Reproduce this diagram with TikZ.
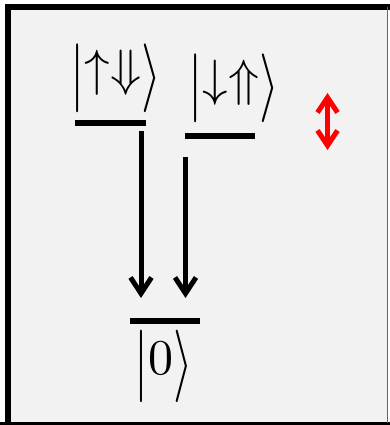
\documentclass[tikz,border=0pt]{standalone}
\usepackage{graphicx}
\usetikzlibrary{arrows.meta}
\newcommand{\tallbar}[1]{\raisebox{-0.2em}{\scalebox{1}[#1]{$|$}}}
\newcommand{\tallket}[1]{\raisebox{-0.2em}{\scalebox{1}[#1]{$\rangle$}}}
\newcommand{\ketlabel}[3]{\scalebox{#1}{$\tallbar{#2}#3\tallket{#2}$}}
\begin{document}
\begin{tikzpicture}[x=1pt,y=-1pt,
  levelbar/.style={fill=black, inner sep=0pt, minimum height=6pt},
  decay/.style={line width=5pt, -{Straight Barb[length=16pt,width=21pt]}},
  swap/.style={red, line width=5pt, {Straight Barb[length=15pt,width=20pt]}-{Straight Barb[length=15pt,width=20pt]}},
  ket/.style={inner sep=0pt},
]
\useasboundingbox (0,0) rectangle (390,425);
% panel background and frame
\fill[black!5] (7.5,7.5) rectangle (387,423);
\draw[line width=6pt] (7.5,425) -- (7.5,7.5) -- (390,7.5);
\draw[line width=4pt] (0,423.5) -- (390,423.5);
\draw[black!60, line width=1.5pt] (387.5,7.5) -- (387.5,423);

% energy levels
\node[levelbar, minimum width=71pt] (e1) at (110.5,123) {};
\node[levelbar, minimum width=70pt] (e2) at (220,136) {};
\node[levelbar, minimum width=70pt] (e0) at (165,321) {};

% level labels
\node[ket] (k1) at (116,78) {\ketlabel{5.1}{1.35}{\mathord{\uparrow}\mathord{\Downarrow}}};
\node[ket] (k2) at (234,88) {\ketlabel{5.1}{1.35}{\mathord{\downarrow}\mathord{\Uparrow}}};
\node[ket] (k0) at (164,366) {\ketlabel{5}{1.45}{0}};

% decay arrows
\coordinate (d1s) at (141,131);
\coordinate (d1e) at (141,298);
\coordinate (d2s) at (185.5,157);
\coordinate (d2e) at (185.5,298);
\draw[decay] (d1s) -- (d1e);
\draw[decay] (d2s) -- (d2e);

% exchange arrow
\coordinate (s1) at (327.5,93);
\coordinate (s2) at (327.5,150);
\draw[swap] (s1) -- (s2);
\end{tikzpicture}
\end{document}
